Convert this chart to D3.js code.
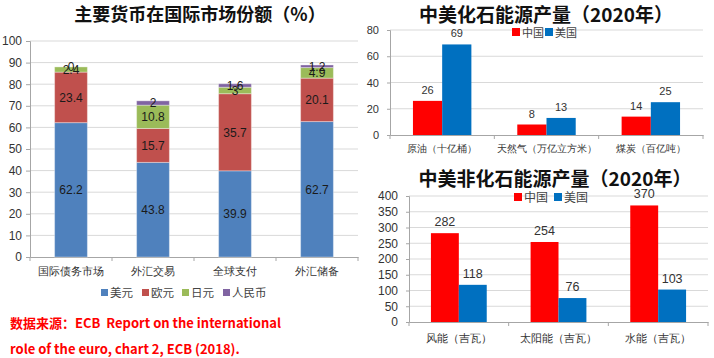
<!DOCTYPE html>
<html>
<head>
<meta charset="utf-8">
<script src="https://cdn.jsdelivr.net/npm/d3@7"></script>
<style>
  body { margin: 0; background: #fff; }
  svg { display: block; font-family: "Noto Sans CJK SC", "Liberation Sans", sans-serif; }
  .grid line { stroke: #d9d9d9; }
  .axis path, .axis line { stroke: #a6a6a6; }
  .axis text { fill: #333; }
</style>
</head>
<body>
<svg id="chart" width="714" height="358"></svg>
<script>
// left chart: currency shares
const shareCats = ["国际债务市场", "外汇交易", "全球支付", "外汇储备"];
const shareKeys = ["美元", "欧元", "日元", "人民币"];
const usd = [62.2, 43.8, 39.9, 62.7];
const eur = [23.4, 15.7, 35.7, 20.1];
const jpy = [2.4, 10.8, 3, 4.9];
const rmb = [0, 2, 1.6, 1.2];
const shareColors = ["#4f81bd", "#c0504d", "#9bbb59", "#8064a2"];

// right charts
const fossilCats = ["原油（十亿桶）", "天然气（万亿立方米）", "煤炭（百亿吨）"];
const fossilCN = [26, 8, 14];
const fossilUS = [69, 13, 25];
const nonFossilCats = ["风能（吉瓦）", "太阳能（吉瓦）", "水能（吉瓦）"];
const nonFossilCN = [282, 254, 370];
const nonFossilUS = [118, 76, 103];
const countryKeys = ["中国", "美国"];
const countryColors = ["#ff0000", "#0070c0"];

const svg = d3.select("#chart");

// ---------- stacked chart ----------
(function () {
  const left = 30, right = 358, top = 41, bottom = 257;
  const rows = shareCats.map((c, i) => ({ cat: c, "美元": usd[i], "欧元": eur[i], "日元": jpy[i], "人民币": rmb[i] }));
  const series = d3.stack().keys(shareKeys)(rows);

  const x = d3.scaleBand().domain(shareCats).range([left, right]).paddingInner(0.6).paddingOuter(0.3);
  const y = d3.scaleLinear().domain([0, 100]).range([bottom, top]);
  const g = svg.append("g");

  g.append("text").attr("x", 200).attr("y", 21).attr("text-anchor", "middle")
    .attr("font-size", 18).attr("font-weight", "bold").attr("fill", "#111")
    .text("主要货币在国际市场份额（%）");

  g.append("g").attr("class", "grid")
    .selectAll("line").data(y.ticks(10).slice(1)).join("line")
    .attr("x1", left).attr("x2", right).attr("y1", d => y(d)).attr("y2", d => y(d));

  const yAxis = g.append("g").attr("class", "axis").attr("transform", `translate(${left},0)`)
    .call(d3.axisLeft(y).ticks(10).tickSize(4).tickPadding(4));
  yAxis.selectAll("text").attr("font-size", 12).attr("font-family", "Liberation Sans, sans-serif");

  const xAxis = g.append("g").attr("class", "axis").attr("transform", `translate(0,${bottom})`)
    .call(d3.axisBottom(x).tickSize(0).tickPadding(10));
  xAxis.selectAll("text").attr("font-size", 11).attr("fill", "#444");
  xAxis.selectAll(".bound").data(d3.range(5)).join("line").attr("class", "bound")
    .attr("x1", i => left + i * (right - left) / 4).attr("x2", i => left + i * (right - left) / 4)
    .attr("y1", 0).attr("y2", 4).attr("stroke", "#a6a6a6");

  const layers = g.selectAll(".layer").data(series).join("g").attr("fill", (d, i) => shareColors[i]);
  layers.selectAll("rect").data(d => d).join("rect")
    .attr("x", d => x(d.data.cat)).attr("width", x.bandwidth())
    .attr("y", d => y(d[1])).attr("height", d => y(d[0]) - y(d[1]))
    .attr("stroke", "rgba(255,255,255,0.35)").attr("stroke-width", 1);

  series.forEach(s => {
    g.selectAll(null).data(s).join("text")
      .attr("x", d => x(d.data.cat) + x.bandwidth() / 2)
      .attr("y", d => y((d[0] + d[1]) / 2) + 4.5)
      .attr("text-anchor", "middle").attr("font-size", 12).attr("fill", "#1a1a1a")
      .attr("font-family", "Liberation Sans, sans-serif")
      .text(d => d.data[s.key]);
  });

  // legend
  const lx = [101, 142, 182, 223];
  const lg = g.selectAll(".leg").data(shareKeys).join("g").attr("transform", (d, i) => `translate(${lx[i]},294)`);
  lg.append("rect").attr("x", 0).attr("y", -5).attr("width", 7).attr("height", 7).attr("fill", (d, i) => shareColors[i]);
  lg.append("text").attr("x", 9).attr("y", 3).attr("font-size", 11.5).attr("fill", "#444").text(d => d);

  // source note
  const note = g.append("g").attr("fill", "#ff0000").attr("font-weight", "bold").attr("font-size", 13);
  note.append("text").attr("x", 10).attr("y", 328).attr("xml:space", "preserve").text("数据来源：ECB  Report on the international");
  note.append("text").attr("x", 10).attr("y", 354).text("role of the euro, chart 2, ECB (2018).");
})();

// ---------- grouped charts ----------
function grouped(opts) {
  const { cats, cn, us, left, right, top, bottom, max, tick, title, titleX, titleY, legY, legX } = opts;
  const g = svg.append("g");
  const x0 = d3.scaleBand().domain(cats).range([left, right]).paddingInner(0.44).paddingOuter(0.22);
  const x1 = d3.scaleBand().domain(countryKeys).range([0, x0.bandwidth()]);
  const y = d3.scaleLinear().domain([0, max]).range([bottom, top]);
  const ticks = d3.range(0, max + 1, tick);

  g.append("text").attr("x", titleX).attr("y", titleY).attr("text-anchor", "middle")
    .attr("font-size", 19).attr("font-weight", "bold").attr("fill", "#111").text(title);

  g.append("g").attr("class", "grid")
    .selectAll("line").data(ticks.slice(1)).join("line")
    .attr("x1", left).attr("x2", right).attr("y1", d => y(d)).attr("y2", d => y(d))
    .attr("stroke", "#bfbfbf");

  const yAxis = g.append("g").attr("class", "axis").attr("transform", `translate(${left},0)`)
    .call(d3.axisLeft(y).tickValues(ticks).tickSize(3).tickPadding(8));
  yAxis.selectAll("text").attr("font-size", opts.tickFont).attr("font-family", "Liberation Sans, sans-serif");

  const xAxis = g.append("g").attr("class", "axis").attr("transform", `translate(0,${bottom})`)
    .call(d3.axisBottom(x0).tickSize(0).tickPadding(opts.xPad));
  xAxis.selectAll("text").attr("font-size", opts.xFont).attr("fill", "#444");
  xAxis.selectAll(".bound").data(d3.range(4)).join("line").attr("class", "bound")
    .attr("x1", i => left + i * (right - left) / 3).attr("x2", i => left + i * (right - left) / 3)
    .attr("y1", 0).attr("y2", 4).attr("stroke", "#a6a6a6");

  const rows = cats.map((c, i) => ({ cat: c, vals: [cn[i], us[i]] }));
  const grp = g.selectAll(".grp").data(rows).join("g").attr("transform", d => `translate(${x0(d.cat)},0)`);
  grp.selectAll("rect").data(d => d.vals.map((v, k) => ({ k: countryKeys[k], v, i: k }))).join("rect")
    .attr("x", d => x1(d.k)).attr("width", x1.bandwidth())
    .attr("y", d => y(d.v)).attr("height", d => bottom - y(d.v))
    .attr("fill", d => countryColors[d.i]);
  grp.selectAll("text").data(d => d.vals.map((v, k) => ({ k: countryKeys[k], v }))).join("text")
    .attr("x", d => x1(d.k) + x1.bandwidth() / 2).attr("y", d => y(d.v) - 7)
    .attr("text-anchor", "middle").attr("font-size", opts.labFont).attr("fill", "#333")
    .attr("font-family", "Liberation Sans, sans-serif").text(d => d.v);

  const lg = g.selectAll(".leg").data(countryKeys).join("g").attr("transform", (d, i) => `translate(${legX[i]},${legY})`);
  lg.append("rect").attr("x", 0).attr("y", -5).attr("width", 8).attr("height", 8).attr("fill", (d, i) => countryColors[i]);
  lg.append("text").attr("x", 10).attr("y", 4).attr("font-size", opts.legFont).attr("fill", "#444").text(d => d);
}

grouped({
  cats: fossilCats, cn: fossilCN, us: fossilUS,
  left: 390, right: 703, top: 30, bottom: 135, max: 80, tick: 20,
  title: "中美化石能源产量（2020年）", titleX: 546, titleY: 22,
  legY: 33, legX: [512, 545],
  tickFont: 11, xFont: 9.5, labFont: 11, legFont: 11, xPad: 10
});

grouped({
  cats: nonFossilCats, cn: nonFossilCN, us: nonFossilUS,
  left: 409, right: 708, top: 196, bottom: 322, max: 400, tick: 50,
  title: "中美非化石能源产量（2020年）", titleX: 555, titleY: 186,
  legY: 198, legX: [514, 554],
  tickFont: 12, xFont: 11, labFont: 12.5, legFont: 12, xPad: 12
});
</script>
</body>
</html>
